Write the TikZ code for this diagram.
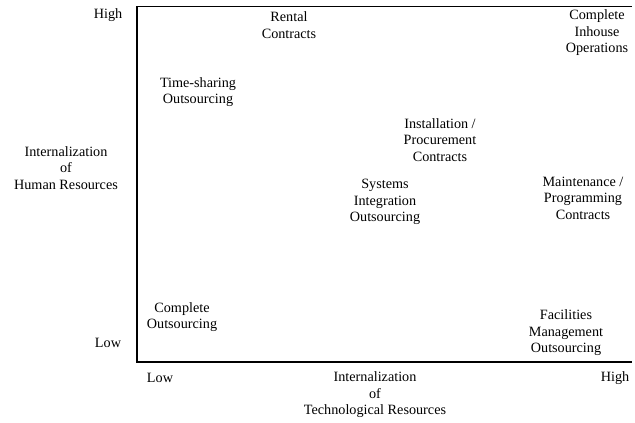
\documentclass[tikz,border=0pt]{standalone}
\usepackage{fontspec}
\setmainfont{Liberation Serif}
\begin{document}
\begin{tikzpicture}[x=1pt,y=-1pt,
  lbl/.style={align=center,inner sep=0pt,font=\fontsize{14.2}{16.5}\selectfont},
  axis/.style={line width=1.4pt}]
\useasboundingbox (0,0) rectangle (635,423);
% frame corners
\coordinate (tl) at (137,6);
\coordinate (bl) at (137,362);
\coordinate (br) at (632,362);
\coordinate (tr) at (632,6);
\draw[axis] (tl) -- (bl) -- (br);
\draw[line width=1pt] (tl) -- (tr);
% axis labels
\node[lbl] (yhigh) at (108,15) {High};
\node[lbl] (ylow) at (108,343) {Low};
\node[lbl] (ytitle) at (66,168) {Internalization\\of\\Human Resources};
\node[lbl] (xlow) at (160,378) {Low};
\node[lbl] (xhigh) at (615,378) {High};
\node[lbl] (xtitle) at (375,395) {Internalization\\of\\Technological Resources};
% sourcing options
\node[lbl] (rental) at (289,25) {Rental\\Contracts};
\node[lbl] (inhouse) at (597,33) {Complete\\Inhouse\\Operations};
\node[lbl] (timeshare) at (198,92) {Time-sharing\\Outsourcing};
\node[lbl] (install) at (440,140) {Installation /\\Procurement\\Contracts};
\node[lbl] (sysint) at (385,202) {Systems\\Integration\\Outsourcing};
\node[lbl] (maint) at (583,198) {Maintenance /\\Programming\\Contracts};
\node[lbl] (outsrc) at (182,317) {Complete\\Outsourcing};
\node[lbl] (facil) at (566,333) {Facilities\\Management\\Outsourcing};
\end{tikzpicture}
\end{document}
